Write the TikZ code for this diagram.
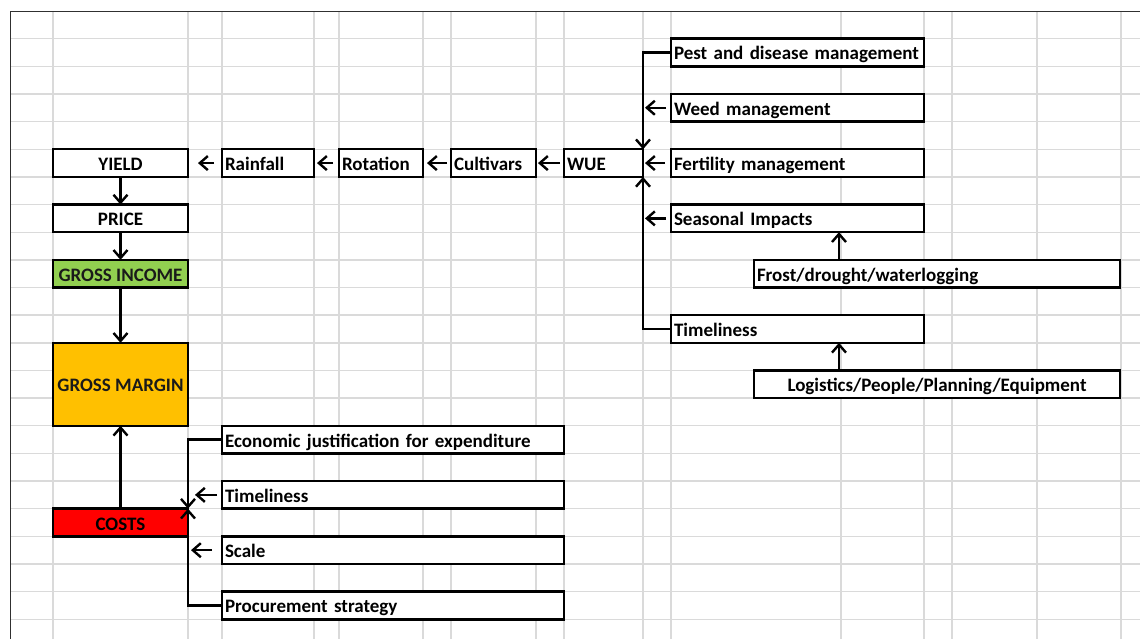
\documentclass[tikz,border=0pt]{standalone}
\usepackage{fontspec}
\setmainfont{Carlito}
\usetikzlibrary{arrows.meta,calc}
\definecolor{gridc}{HTML}{DADADA}
\definecolor{framec}{HTML}{303030}
\definecolor{gi}{HTML}{92D050}
\definecolor{gm}{HTML}{FFC000}
\definecolor{cost}{HTML}{FF0000}
\newcommand\bxl[7]{%
 \pgfmathsetmacro\bw{(#4)-(#2)}%
 \pgfmathsetmacro\bh{(#5)-(#3)}%
 \pgfmathsetmacro\tw{\bw-6}%
 \node[box,#7,minimum width=\bw pt,minimum height=\bh pt,text width=\tw pt,inner xsep=3pt,align=left] (#1) at ({#2},{#3}) {#6};}
\newcommand\bxc[7]{%
 \pgfmathsetmacro\bw{(#4)-(#2)}%
 \pgfmathsetmacro\bh{(#5)-(#3)}%
 \node[box,#7,minimum width=\bw pt,minimum height=\bh pt,inner xsep=0pt] (#1) at ({#2},{#3}) {#6};}
\begin{document}
\begin{tikzpicture}[x=1pt,y=-1pt,
  box/.style={draw=black,line width=2.5pt,fill=white,anchor=north west,inner ysep=0pt,outer sep=0pt,
    font=\fontsize{19}{22}\selectfont\bfseries,text height=15pt,text depth=0pt},
  gridline/.style={gridc,line width=1.4pt},
  tip/.style={-{Straight Barb[length=8pt,width=14pt,line width=2.4pt]}},
  arr/.style={line width=2.4pt,tip},
  bus/.style={line width=2.2pt,tip}]
\useasboundingbox (0,0) rectangle (1140,639);
\fill[white] (0,0) rectangle (1140,639);
% grid
\foreach \x in {53,188,222,314,339,423,451,536,564,643,671,841,924,952,1037,1121}
  \draw[gridline] (\x,11) -- (\x,639);
\foreach \i in {1,...,22}
  \draw[gridline] (10,{11+27.65*\i}) -- (1140,{11+27.65*\i});
\draw[framec,line width=1.6pt] (10.5,639) -- (10.5,11.5) -- (1140,11.5);
% left column
\bxc{yield}{53}{11+27.65*5}{188}{11+27.65*6}{YIELD}{}
\bxc{price}{53}{11+27.65*7}{188}{11+27.65*8}{PRICE}{}
\bxc{gincome}{53}{11+27.65*9}{188}{11+27.65*10}{\color[HTML]{1A1A1A}GROSS INCOME}{fill=gi}
\bxc{gmargin}{53}{11+27.65*12}{188}{11+27.65*15}{\color[HTML]{1A1A1A}GROSS MARGIN}{fill=gm}
\bxc{costs}{53}{11+27.65*18}{188}{11+27.65*19}{COSTS}{fill=cost}
% top row
\bxl{rain}{222}{11+27.65*5}{314}{11+27.65*6}{Rainfall}{}
\bxl{rot}{339}{11+27.65*5}{423}{11+27.65*6}{Rotation}{}
\bxl{cult}{451}{11+27.65*5}{536}{11+27.65*6}{Cultivars}{}
\bxl{wue}{564}{11+27.65*5}{643}{11+27.65*6}{WUE}{}
% right column
\bxl{pest}{671}{11+27.65*1}{924}{11+27.65*2}{Pest and disease management}{}
\bxl{weed}{671}{11+27.65*3}{924}{11+27.65*4}{Weed management}{}
\bxl{fert}{671}{11+27.65*5}{924}{11+27.65*6}{Fertility management}{}
\bxl{seas}{671}{11+27.65*7}{924}{11+27.65*8}{Seasonal Impacts}{}
\bxl{frost}{754}{11+27.65*9}{1120}{11+27.65*10}{Frost/drought/waterlogging}{}
\bxl{time1}{671}{11+27.65*11}{924}{11+27.65*12}{Timeliness}{}
\bxc{logi}{754}{11+27.65*13}{1120}{11+27.65*14}{Logistics/People/Planning/Equipment}{}
% cost factors
\bxl{econ}{222}{11+27.65*15}{564}{11+27.65*16}{Economic justification for expenditure}{}
\bxl{time2}{222}{11+27.65*17}{564}{11+27.65*18}{Timeliness}{}
\bxl{scale}{222}{11+27.65*19}{564}{11+27.65*20}{Scale}{}
\bxl{proc}{222}{11+27.65*21}{564}{11+27.65*22}{Procurement strategy}{}
% left column arrows
\draw[arr] (yield.south) -- (price.north);
\draw[arr] (price.south) -- (gincome.north);
\draw[arr] (gincome.south) -- (gmargin.north);
\draw[arr] (costs.north) -- (gmargin.south);
% chain arrows
\draw[arr,shorten <=8pt,shorten >=10pt] (rain.west) -- (yield.east);
\draw[arr,shorten <=6pt,shorten >=3pt] (rot.west) -- (rain.east);
\draw[arr,shorten <=4pt,shorten >=4pt] (cult.west) -- (rot.east);
\draw[arr,shorten <=4pt,shorten >=2pt] (wue.west) -- (cult.east);
% WUE bus
\draw[bus] (pest.west) -| (wue.north east);
\draw[bus] (time1.west) -| (wue.south east);
\draw[arr,shorten <=5pt,shorten >=2pt] (weed.west) -- (weed.west -| wue.east);
\draw[arr,shorten <=6pt,shorten >=2pt] (fert.west) -- (wue.east);
\draw[arr,shorten <=5pt,shorten >=2pt] (seas.west) -- (seas.west -| wue.east);
\coordinate (fa) at ($(frost.north west)+(85,0)$);
\coordinate (la) at ($(logi.north west)+(85,0)$);
\draw[arr] (fa) -- (fa |- seas.south);
\draw[arr] (la) -- (la |- time1.south);
% costs bus
\draw[bus] (econ.west) -| (costs.north east);
\draw[bus] (proc.west) -| (costs.north east);
\draw[arr,shorten <=5pt,shorten >=7pt] (time2.west) -- (time2.west -| costs.east);
\draw[arr,shorten <=10pt,shorten >=3pt] (scale.west) -- (scale.west -| costs.east);
\end{tikzpicture}
\end{document}
